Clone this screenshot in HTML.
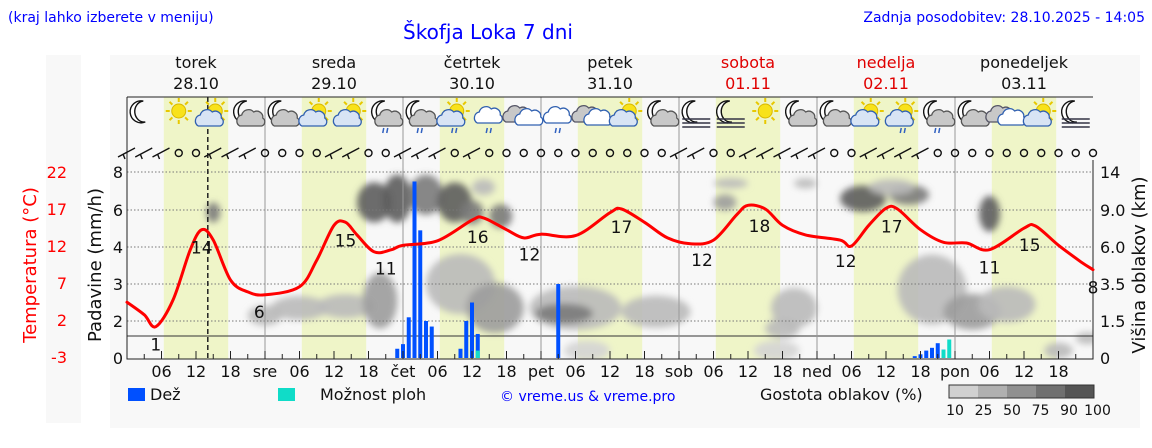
<!DOCTYPE html>
<html><head><meta charset="utf-8">
<style>
html,body{margin:0;padding:0;background:#fff;}
body{width:1152px;height:443px;overflow:hidden;font-family:"Liberation Sans","DejaVu Sans",sans-serif;}
svg text{font-family:"DejaVu Sans","Liberation Sans",sans-serif;}
</style></head>
<body>
<svg id="chart" width="1152" height="443" viewBox="0 0 1152 443" xmlns="http://www.w3.org/2000/svg">
<defs>
<filter id="blur" x="-30%" y="-30%" width="160%" height="160%"><feGaussianBlur stdDeviation="3.5"/></filter>
<clipPath id="plotclip"><rect x="127" y="160" width="966" height="199"/></clipPath>
</defs>
<rect x="46" y="55" width="35" height="368" fill="#f8f8f8"/>
<rect x="110" y="55" width="1030" height="373" fill="#f8f8f8"/>
<text x="8" y="22" font-size="14" fill="#0000ff">(kraj lahko izberete v meniju)</text>
<text x="488" y="39" font-size="20" fill="#0000ff" text-anchor="middle">Škofja Loka 7 dni</text>
<text x="1145" y="22" font-size="14" fill="#0000ff" text-anchor="end">Zadnja posodobitev: 28.10.2025 - 14:05</text>
<g id="stripes"></g>
<g id="clouds" clip-path="url(#plotclip)"><g id="cloudsin" filter="url(#blur)"></g></g>
<g id="grid"></g>
<g id="icons"></g>
<g id="wind"></g>
<g id="bars"></g>
<g id="temp"></g>
<g id="axes"></g>
<g id="legend"></g>
</svg>
<script>
// ---- data ----
const dayNames = ["torek","sreda","četrtek","petek","sobota","nedelja","ponedeljek"];
const dayDates = ["28.10","29.10","30.10","31.10","01.11","02.11","03.11"];
const weekendDays = [4,5];
const dayAbbr = ["sre","čet","pet","sob","ned","pon"];
const tempHours = [0,3,5,8,11,13,15,18,21,24,30,33,36,38,40,43,46,48,54,60,62,66,69,72,78,84,86,90,94,98,102,106,108,111,114,118,124,126,129,132,134,138,142,146,150,156,158,162,166,168];
const tempValues = [4.4,2.7,1.1,4.7,11.5,14.2,12.8,7.4,5.8,5.4,6.5,10.1,14.8,15.2,13.5,11.2,11.5,12.1,12.7,15.5,15.8,14.2,13.1,13.6,13.4,16.5,17,15.2,13.1,12.3,12.8,16.2,17.5,17,14.8,13.5,12.8,12,14.8,17.1,17,14.2,12.5,12.4,11.5,14.4,14.7,12.1,9.8,8.8];
const labelHours = [5,13,23,38,45,61,70,86,100,110,125,133,150,157,168];
const labelTexts = ["1","14","6","15","11","16","12","17","12","18","12","17","11","15","8"];
const rainHours = [47,48,49,50,51,52,53,58,59,60,61,75,137,138,139,140,141,142,143];
const rainValues = [0.5,0.75,2.1,7.5,4.9,2.0,1.7,0.5,2.0,2.5,1.3,3.0,0.1,0.2,0.4,0.55,0.8,0.45,0];
const showerValues = [0,0,0,0,0,0,0,0,0,0,0.4,0,0,0,0,0,0,0.45,1.0];
const precipTicks = [0,2,3,4,6,8];
const tempTicks = [22,17,12,7,2,-3];
const cloudTicks = ["0","1.5","3.5","6.0","9.0","14"];
const iconTypes = ["m","s","sc","mc","mc","sc","sc","mcr","mcr","scr","cr","cc","cr","cc","sc","mc","mf","mf","s","mc","mc","sc","scr","mcr","mc","cc","sc","mf"];
const windCodes = "bbboobbboooobboobbbobooooooooooobboobbbbboobbbboooooooooo";
// cloud blobs: hour, height km, rx(h), ry(px), density level 0-4
const cloudHour = [15,43,47,52,57,60,30,38,44,24,58,64,78,76,92,65,62,105,104,118,116,114,128,136,133,140,147,153,150,80,113,162,167];
const cloudKm   = [8.8,10,10.5,11,10,8.8,2.2,2.3,2.6,1.8,3.5,2.2,2.2,1.9,2.0,8.5,12,12.5,10,12.5,2.2,1.2,10.5,11,12,3.2,2.0,2.4,8.7,0.3,0.3,0.3,0.8];
const cloudRx   = [1.2,3,2.5,3,3,2,5,5,3,3,6,5,8,5,6,2,2,3,2,2,4,3,4,3.5,4,6,5,5,1.8,4,4,2.5,2];
const cloudRy   = [10,20,24,20,20,12,12,12,28,10,30,25,22,10,16,12,8,5,8,5,20,10,13,10,8,35,18,18,18,10,10,8,6];
const cloudLvl  = [3,4,4,3,4,3,1,1,2,1,1,2,1,3,1,3,1,1,2,1,1,1,4,3,1,1,2,1,4,0,0,1,1];

// ---- scales ----
const X0=127, PX=5.75;
function xh(h){return X0+h*PX;}
function pw(v,tab){for(let i=1;i<tab.length;i++){if(v<=tab[i][0]){const a=tab[i-1],b=tab[i];return a[1]+(v-a[0])/(b[0]-a[0])*(b[1]-a[1]);}}return tab[tab.length-1][1];}
const pTab=[[0,358],[2,321],[3,284],[4,247],[6,210],[8,172]];
const kTab=[[0,358],[1.5,321],[3.5,284],[6,247],[9,210],[14,172]];
function yP(v){return pw(v,pTab);}
function yK(v){return pw(v,kTab);}
function yT(t){return 172+(22-t)*7.4;}
function tempAt(h){for(let i=1;i<tempHours.length;i++){if(h<=tempHours[i]){const a=tempHours[i-1],b=tempHours[i];return tempValues[i-1]+(h-a)/(b-a)*(tempValues[i]-tempValues[i-1]);}}return tempValues[tempValues.length-1];}

const NS="http://www.w3.org/2000/svg";
function mk(tag,attrs,parent){const e=document.createElementNS(NS,tag);for(const k in attrs)e.setAttribute(k,attrs[k]);parent.appendChild(e);return e;}
const G=id=>document.getElementById(id);

// stripes (daylight)
for(let d=0;d<7;d++){
  const r=mk('rect',{x:xh(d*24+6.4),y:97,width:11.2*PX,height:262,fill:'#eff5c8'},G('stripes'));
  
  
}
// clouds
const shades=['#d4d4d4','#bababa','#9c9c9c','#7a7a7a','#5c5c5c'];
for(let i=0;i<cloudHour.length;i++){
  const e=mk('ellipse',{cx:xh(cloudHour[i]),cy:yK(cloudKm[i]),rx:cloudRx[i]*PX,ry:cloudRy[i],fill:shades[cloudLvl[i]],opacity:0.9},G('cloudsin'));
  
  
}
// grid
const grid=G('grid');
precipTicks.forEach(v=>{ if(v>0){const l=mk('line',{x1:127,x2:1093,y1:yP(v),y2:yP(v),stroke:'#777','stroke-dasharray':'1.5,2','stroke-width':1},grid);
  
  }});
mk('line',{x1:127,x2:1093,y1:336,y2:336,stroke:'#333','stroke-width':1},grid);
for(let d=1;d<7;d++){const l=mk('line',{x1:xh(d*24),x2:xh(d*24),y1:97,y2:359,stroke:'#999','stroke-width':1},grid);
  
  }
const fr=mk('path',{d:'M127,97 L1093,97 M127,97 L127,359 L1093,359 L1093,160',stroke:'#222',fill:'none','stroke-width':1},grid);


const now=mk('line',{x1:xh(14.05),x2:xh(14.05),y1:97,y2:359,stroke:'#222','stroke-dasharray':'5,3','stroke-width':1.5},grid);



// icons
function moon(g,cx,cy,s){mk('path',{d:`M${cx+3*s},${cy-11*s} A11 11 0 1 0 ${cx+5*s},${cy+10*s} A9 10 0 0 1 ${cx+3*s},${cy-11*s} Z`,fill:'#fff',stroke:'#111','stroke-width':1.4},g);}
function sun(g,cx,cy,r){for(let a=0;a<8;a++){const t=a*Math.PI/4;mk('line',{x1:cx+Math.cos(t)*(r+2),y1:cy+Math.sin(t)*(r+2),x2:cx+Math.cos(t)*(r+6),y2:cy+Math.sin(t)*(r+6),stroke:'#e8c800','stroke-width':2},g);}mk('circle',{cx,cy,r,fill:'#f8e21a',stroke:'#d8b800'},g);}
function cloud(g,cx,cy,fill,stroke){mk('path',{d:`M${cx-12},${cy+6} a6 6 0 0 1 2,-11 a7 7 0 0 1 12,-3 a6 6 0 0 1 9,6 a4.5 4.5 0 0 1 -1,8 Z`,fill,stroke,'stroke-width':1.3},g);}
function rain(g,cx,cy){for(let i=0;i<2;i++)mk('line',{x1:cx-2+i*4,y1:cy,x2:cx-3+i*4,y2:cy+5,stroke:'#3060c0','stroke-width':1.5},g);}
function fog(g,cx,cy){for(let i=0;i<3;i++)mk('line',{x1:cx-14,x2:cx+14,y1:cy+i*4,y2:cy+i*4,stroke:'#334','stroke-width':1.6},g);}
iconTypes.forEach((t,i)=>{
  const g=mk('g',{},G('icons'));
  
  
  const cx=xh(3+6*i), cy=114;
  if(t[0]==='m'){moon(g,cx-4,cy-2,1);}
  if(t[0]==='s'){sun(g,t==='s'?cx:cx+2,cy-3,7);}
  if(t==='sc'||t==='scr'){cloud(g,cx-3,cy+6,'#d8e4f4','#3060b0');}
  if(t==='mc'||t==='mcr'){cloud(g,cx+4,cy+6,'#c8c8c8','#555');}
  if(t==='cr'){cloud(g,cx,cy+3,'#fff','#3060b0');}
  if(t==='cc'){cloud(g,cx-6,cy+2,'#c8c8c8','#556');cloud(g,cx+6,cy+5,'#fff','#3060b0');}
  if(t.endsWith('r')){rain(g,cx,cy+14);}
  if(t==='mf'){fog(g,cx,cy+5);}
});
// wind
for(let i=0;i<windCodes.length;i++){
  const cx=xh(i*3), cy=153;
  const g=mk('g',{},G('wind'));
  
  
  if(windCodes[i]==='o'){mk('circle',{cx,cy,r:3.5,fill:'none',stroke:'#111','stroke-width':1.4},g);}
  else{mk('line',{x1:cx-9,y1:cy+4,x2:cx+8,y2:cy-5,stroke:'#111','stroke-width':1.4},g);mk('line',{x1:cx-4,y1:cy+1,x2:cx-2,y2:cy+6,stroke:'#111','stroke-width':1.4},g);}
}
// bars
rainHours.forEach((h,i)=>{
  const x=xh(h)-2;
  if(rainValues[i]>0){const b=mk('rect',{x,y:yP(rainValues[i]),width:4,height:358-yP(rainValues[i]),fill:'#0050ff'},G('bars'));
    
    }
  if(showerValues[i]>0){const b=mk('rect',{x,y:yP(showerValues[i]),width:4,height:358-yP(showerValues[i]),fill:'#10dcc8'},G('bars'));
    
    }
});
// temperature line (smoothed)
const P=tempHours.map((h,i)=>[xh(h),yT(tempValues[i])]);
let d=`M${P[0][0]},${P[0][1]}`;
for(let i=0;i<P.length-1;i++){
  const p0=P[Math.max(0,i-1)],p1=P[i],p2=P[i+1],p3=P[Math.min(P.length-1,i+2)];
  const c1=[p1[0]+(p2[0]-p0[0])/6,p1[1]+(p2[1]-p0[1])/6];
  const c2=[p2[0]-(p3[0]-p1[0])/6,p2[1]-(p3[1]-p1[1])/6];
  d+=` C${c1[0].toFixed(1)},${c1[1].toFixed(1)} ${c2[0].toFixed(1)},${c2[1].toFixed(1)} ${p2[0].toFixed(1)},${p2[1].toFixed(1)}`;
}
const tl=mk('path',{d,fill:'none',stroke:'#ff0000','stroke-width':3,'stroke-linejoin':'round','stroke-linecap':'round'},G('temp'));


labelHours.forEach((h,i)=>{
  const t=mk('text',{x:xh(h),y:yT(tempAt(h))+24,'font-size':17,'text-anchor':'middle',fill:'#111'},G('temp'));
  t.textContent=labelTexts[i];
  
  
});
// axes
const ax=G('axes');
dayNames.forEach((n,dd)=>{
  const col=weekendDays.includes(dd)?'#e00000':'#111';
  const a=mk('text',{x:xh(dd*24+12),y:68,'font-size':16,'text-anchor':'middle',fill:col},ax);a.textContent=n;
  
  
  const b=mk('text',{x:xh(dd*24+12),y:89,'font-size':16,'text-anchor':'middle',fill:col},ax);b.textContent=dayDates[dd];
  
  
});
for(let h=3;h<168;h+=3){mk('line',{x1:xh(h),x2:xh(h),y1:359,y2:h%6===0?351:354,stroke:'#222'},ax);}
for(let h=6;h<168;h+=6){
  const lab=h%24===0?dayAbbr[h/24-1]:String(h%24).padStart(2,'0');
  const t=mk('text',{x:xh(h),y:377,'font-size':16,'text-anchor':'middle',fill:'#111'},ax);t.textContent=lab;
  
  
}
precipTicks.forEach(v=>{const t=mk('text',{x:123,y:yP(v)+6,'font-size':16,'text-anchor':'end',fill:'#111'},ax);t.textContent=v;
  
  });
tempTicks.forEach(v=>{const t=mk('text',{x:67,y:yT(v)+6,'font-size':16,'text-anchor':'end',fill:'#ff0000'},ax);t.textContent=v;
  
  });
const kv=[0,1.5,3.5,6,9,14];
cloudTicks.forEach((s,i)=>{const t=mk('text',{x:1100,y:yK(kv[i])+6,'font-size':16,fill:'#111'},ax);t.textContent=s;
  
  });
function vtext(x,y,s,col,name){const t=mk('text',{x,y,'font-size':18,'text-anchor':'middle',fill:col,transform:`rotate(-90 ${x} ${y})`},ax);t.textContent=s;}
vtext(36,265,'Temperatura (°C)','#ff0000','temp-axis-title');
vtext(101,265,'Padavine (mm/h)','#111','precip-axis-title');
vtext(1145,265,'Višina oblakov (km)','#111','cloud-axis-title');
// legend
const lg=G('legend');
let r=mk('rect',{x:128,y:388,width:17,height:13,fill:'#0050ff'},lg);


let t=mk('text',{x:150,y:400,'font-size':16,fill:'#111'},lg);t.textContent='Dež';


r=mk('rect',{x:278,y:388,width:17,height:13,fill:'#10dcc8'},lg);


t=mk('text',{x:320,y:400,'font-size':16,fill:'#111'},lg);t.textContent='Možnost ploh';


t=mk('text',{x:500,y:401,'font-size':14,fill:'#0000ff'},lg);t.textContent='© vreme.us & vreme.pro';


t=mk('text',{x:760,y:400,'font-size':16,fill:'#111'},lg);t.textContent='Gostota oblakov (%)';


const scaleCols=['#d0d0d0','#b0b0b0','#909090','#707070','#555555'];
scaleCols.forEach((c,i)=>{const s=mk('rect',{x:949+i*29,y:385,width:29,height:13,fill:c},lg);
  
  });
mk('rect',{x:949,y:385,width:145,height:13,fill:'none',stroke:'#333'},lg);
['10','25','50','75','90','100'].forEach((s,i)=>{const tt=mk('text',{x:955+i*28.5,y:415,'font-size':14,'text-anchor':'middle',fill:'#111'},lg);tt.textContent=s;
  
  });
</script>
</body></html>
